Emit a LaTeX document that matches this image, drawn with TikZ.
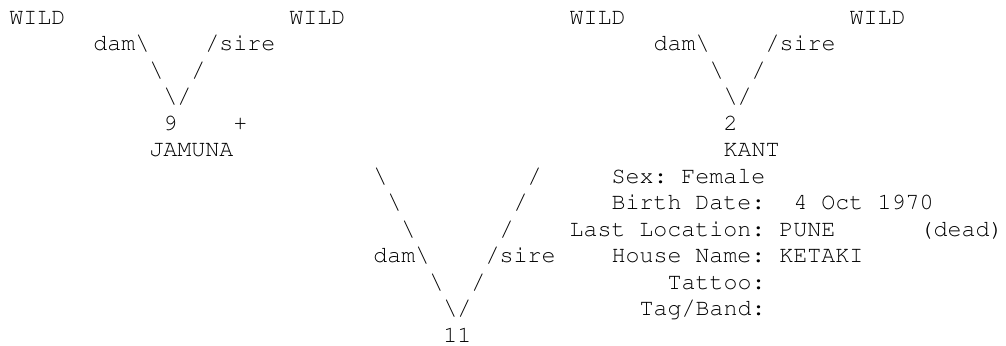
\documentclass[tikz,border=0pt]{standalone}
\usepackage[T1]{fontenc}

\begin{document}
\begin{tikzpicture}[x = 6pt, y = 11.36pt,
    every node/.style = { inner sep = 0pt, anchor = base west,
      font = \fontfamily{pcr}\fontsize{10pt}{11.36pt}\selectfont\frenchspacing }]
    \useasboundingbox (-0.643,0.906) rectangle (71.21,-12.11);
    % parents of 9 and 2
    \node (wildA) at (0,0)  { WILD };
    \node (wildB) at (20,0) { WILD };
    \node (wildC) at (40,0) { WILD };
    \node (wildD) at (60,0) { WILD };
    \node (damA)  at (6,-1)  { dam\textbackslash };
    \node (sireA) at (14,-1) { /sire };
    \node (damB)  at (46,-1) { dam\textbackslash };
    \node (sireB) at (54,-1) { /sire };
    \node (legA)  at (10,-2) { \textbackslash };
    \node (legB)  at (13,-2) { / };
    \node (legC)  at (50,-2) { \textbackslash };
    \node (legD)  at (53,-2) { / };
    \node (tipA)  at (11,-3) { \textbackslash/ };
    \node (tipB)  at (51,-3) { \textbackslash/ };
    \node (nine)  at (11,-4) { 9 };
    \node (plus)  at (16,-4) { + };
    \node (two)   at (51,-4) { 2 };
    \node (jamuna) at (10,-5) { JAMUNA };
    \node (kant)  at (51,-5) { KANT };
    % legs down to 11
    \foreach \r in {6,7,8} {
      \node (dl\r) at (20+\r,-\r) { \textbackslash };
      \node (sl\r) at (43-\r,-\r) { / };
    }
    \node (damC)  at (26,-9)  { dam\textbackslash };
    \node (sireC) at (34,-9)  { /sire };
    \node (legE)  at (30,-10) { \textbackslash };
    \node (legF)  at (33,-10) { / };
    \node (tipC)  at (31,-11) { \textbackslash/ };
    \node (eleven) at (31,-12) { 11 };
    % record of KANT
    \node (sex)   at (43,-6)  { Sex: Female };
    \node (birth) at (43,-7)  { Birth Date: };
    \node (date)  at (56,-7)  { 4 Oct 1970 };
    \node (loc)   at (40,-8)  { Last Location: PUNE };
    \node (dead)  at (65,-8)  { (dead) };
    \node (house) at (43,-9)  { House Name: KETAKI };
    \node (tattoo) at (47,-10) { Tattoo: };
    \node (tag)   at (45,-11) { Tag/Band: };
\end{tikzpicture}
\end{document}
